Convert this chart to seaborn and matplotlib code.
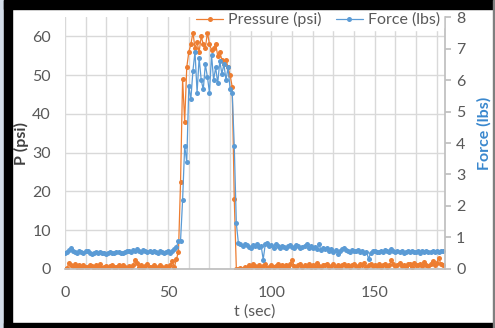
import numpy as np
import pandas as pd
import matplotlib
matplotlib.use('Agg')
import matplotlib.pyplot as plt
import seaborn as sns
from matplotlib.patches import Rectangle

# sampled once per second
time_s = np.arange(0, 184)

pressure_psi = [
    0.0, 0.2, 1.5, 1.0, 0.8, 1.2, 0.5, 0.9, 0.3, 1.1,
    0.6, 0.4, 1.0, 0.7, 0.2, 0.9, 0.5, 1.2, 0.3, 0.6,
    0.8, 0.2, 0.7, 1.1, 0.4, 0.5, 0.9, 0.3, 1.0, 0.6,
    0.2, 0.8, 0.4, 1.0, 2.3, 1.6, 0.5, 0.9, 0.3, 0.7,
    1.2, 0.4, 0.6, 0.9, 0.3, 0.5, 1.0, 0.4, 0.2, 0.8,
    0.6, 1.0, 2.0, 0.5, 2.5, 4.5, 22.4, 49.0, 38.0, 52.0,
    56.0, 58.0, 61.0, 57.0, 58.5, 56.0, 60.0, 58.0, 57.0, 61.0,
    58.0, 56.5, 57.0, 58.0, 55.0, 56.0, 54.0, 53.0, 54.0, 52.0,
    50.0, 47.0, 18.0, 0.1, 0.0, 0.2, 0.1, 0.6, 0.3, 0.9,
    0.4, 1.2, 0.7, 0.2, 1.0, 0.5, 0.8, 1.3, 0.3, 0.6,
    1.0, 0.4, 0.7, 1.2, 0.5, 0.9, 0.3, 1.1, 0.6, 1.4,
    2.3, 0.8, 0.5, 1.0, 1.2, 0.4, 0.9, 0.7, 1.3, 0.5,
    1.0, 0.6, 1.5, 0.8, 0.4, 1.1, 0.9, 1.4, 0.5, 0.8,
    1.2, 0.6, 1.0, 0.3, 0.9, 1.3, 0.7, 1.1, 0.5, 1.0,
    1.4, 0.8, 0.6, 1.2, 0.9, 1.5, 0.4, 1.0, 1.3, 0.7,
    1.1, 0.8, 1.4, 0.6, 1.0, 1.2, 0.5, 0.9, 2.2, 1.3,
    0.7, 1.1, 1.6, 0.8, 1.0, 0.5, 1.3, 1.2, 0.6, 1.5,
    0.9, 1.1, 1.4, 0.7, 1.8, 1.0, 0.8, 1.3, 2.0, 1.1,
    1.6, 2.9, 1.2, 0.9,
]

force_lbs = [
    0.52, 0.55, 0.60, 0.65, 0.58, 0.55, 0.52, 0.57, 0.54, 0.50,
    0.56, 0.58, 0.52, 0.49, 0.51, 0.55, 0.50, 0.53, 0.50, 0.52,
    0.49, 0.51, 0.53, 0.50, 0.52, 0.55, 0.53, 0.50, 0.52, 0.54,
    0.58, 0.56, 0.53, 0.60, 0.57, 0.62, 0.58, 0.55, 0.60, 0.57,
    0.53, 0.56, 0.54, 0.58, 0.55, 0.52, 0.56, 0.54, 0.51, 0.55,
    0.58, 0.52, 0.56, 0.62, 0.70, 0.88, 0.90, 2.2, 3.9, 3.4,
    5.8, 5.4, 6.3, 6.9, 5.6, 6.7, 6.0, 5.7, 6.5, 6.1,
    5.6, 6.8, 6.0, 6.4, 5.9, 6.6, 6.2, 6.5, 6.0, 6.4,
    5.7, 5.6, 3.9, 1.45, 0.82, 0.78, 0.72, 0.80, 0.75, 0.70,
    0.68, 0.76, 0.72, 0.80, 0.70, 0.74, 0.30, 0.78, 0.82, 0.72,
    0.75, 0.68, 0.78, 0.72, 0.66, 0.74, 0.70, 0.65, 0.72, 0.76,
    0.70, 0.68, 0.75, 0.72, 0.66, 0.70, 0.74, 0.80, 0.68, 0.72,
    0.66, 0.70, 0.64, 0.78, 0.60, 0.68, 0.62, 0.66, 0.58, 0.62,
    0.55, 0.60, 0.48, 0.58, 0.62, 0.66, 0.60, 0.57, 0.55, 0.60,
    0.58, 0.56, 0.60, 0.54, 0.57, 0.52, 0.55, 0.32, 0.50, 0.56,
    0.58, 0.55, 0.53, 0.57, 0.55, 0.60, 0.56, 0.54, 0.62, 0.58,
    0.55, 0.57, 0.53, 0.56, 0.52, 0.55, 0.58, 0.54, 0.56, 0.53,
    0.55, 0.57, 0.52, 0.56, 0.54, 0.58, 0.55, 0.53, 0.56, 0.55,
    0.57, 0.54, 0.56, 0.58,
]

df = pd.DataFrame({'t': time_s, 'pressure': pressure_psi, 'force': force_lbs})

orange = '#ED7D31'
blue = '#5B9BD5'
grey_text = '#595959'
grid_col = '#d9d9d9'

sns.set_theme(style='white')
plt.rcParams['font.family'] = ['Lato', 'DejaVu Sans']

fig = plt.figure(figsize=(4.95, 3.28), dpi=100)
ax = fig.add_axes([0.131, 0.180, 0.768, 0.768])

sns.lineplot(data=df, x='t', y='pressure', ax=ax, color=orange, marker='o',
             markersize=3.6, markeredgewidth=0, linewidth=0.9, legend=False)

ax.set_xlim(0, 184)
ax.set_ylim(0, 65)
ax.set_xticks([0, 50, 100, 150])
ax.set_xticks(np.arange(0, 181, 10), minor=True)
ax.set_yticks(np.arange(0, 61, 10))
ax.grid(which='both', axis='x', color=grid_col, lw=1)
ax.grid(which='major', axis='y', color=grid_col, lw=1)
ax.set_axisbelow(True)
ax.tick_params(axis='x', which='both', length=3, color='#bfbfbf',
               labelsize=11.5, labelcolor=grey_text, pad=9)
ax.tick_params(axis='y', length=0, labelsize=11.5, labelcolor=grey_text, pad=10)
for s in ['top', 'left', 'right']:
    ax.spines[s].set_visible(False)
ax.spines['bottom'].set_color('#bfbfbf')

ax.set_xlabel('t (sec)', fontsize=11.5, color=grey_text)
ax.xaxis.set_label_coords(0.5, -0.14)
ax.set_ylabel('P (psi)', fontsize=11.5, fontweight='bold', color='#404040')
ax.yaxis.set_label_coords(-0.095, 0.5)

ax2 = ax.twinx()
sns.lineplot(data=df, x='t', y='force', ax=ax2, color=blue, marker='o',
             markersize=3.6, markeredgewidth=0, linewidth=0.9, legend=False)
ax2.set_ylim(0, 8)
ax2.set_yticks(np.arange(0, 9, 1))
ax2.tick_params(axis='y', length=4, color='#bfbfbf', labelsize=11.5,
                labelcolor=grey_text, pad=4)
for s in ['top', 'left', 'bottom']:
    ax2.spines[s].set_visible(False)
ax2.spines['right'].set_color('#bfbfbf')
ax2.set_ylabel('Force (lbs)', fontsize=11.5, fontweight='bold', color='#3A88CE',
               rotation=90)
ax2.yaxis.set_label_coords(1.085, 0.54)

handles = [ax.get_lines()[0], ax2.get_lines()[0]]
leg = ax2.legend(handles, ['Pressure (psi)', 'Force (lbs)'], ncol=2,
                 loc='center right', bbox_to_anchor=(0.995, 0.99),
                 borderaxespad=0, frameon=True, fontsize=11.5,
                 handlelength=1.7, columnspacing=0.9, handletextpad=0.3,
                 borderpad=0.2)
leg.get_frame().set_facecolor('white')
leg.get_frame().set_edgecolor('white')
leg.get_frame().set_alpha(1)
for txt in leg.get_texts():
    txt.set_color(grey_text)

# screenshot frame around the chart
fig.add_artist(Rectangle((0, 0), 4 / 495, 1, transform=fig.transFigure,
                         color='#d3dde9', zorder=10))
fig.add_artist(Rectangle((4 / 495, 0), 8 / 495, 1, transform=fig.transFigure,
                         color='black', zorder=10))
fig.add_artist(Rectangle((4 / 495, 1 - 9 / 328), 1, 9 / 328,
                         transform=fig.transFigure, color='black', zorder=10))
fig.add_artist(Rectangle((4 / 495, 0), 1, 5 / 328, transform=fig.transFigure,
                         color='black', zorder=10))
fig.add_artist(Rectangle((493 / 495, 0), 2 / 495, 1, transform=fig.transFigure,
                         color='#7f7f7f', zorder=10))

fig.savefig('out.png', dpi=100)
